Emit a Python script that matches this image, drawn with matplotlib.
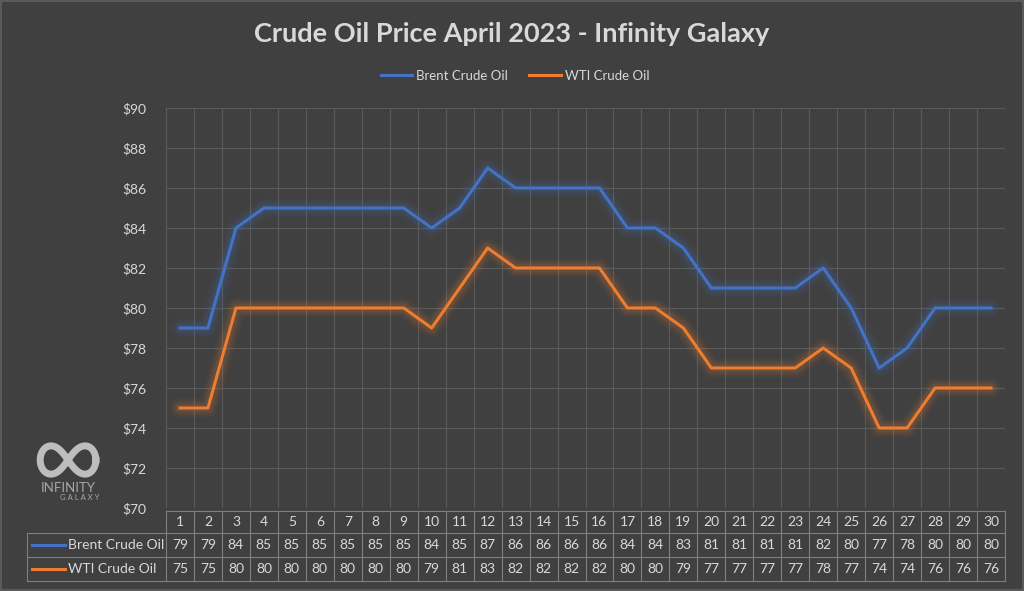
import numpy as np
import matplotlib.pyplot as plt
from matplotlib import transforms

days = list(range(1, 31))
brent = [79, 79, 84, 85, 85, 85, 85, 85, 85, 84, 85, 87, 86, 86, 86, 86,
         84, 84, 83, 81, 81, 81, 81, 82, 80, 77, 78, 80, 80, 80]
wti = [75, 75, 80, 80, 80, 80, 80, 80, 80, 79, 81, 83, 82, 82, 82, 82,
       80, 80, 79, 77, 77, 77, 77, 78, 77, 74, 74, 76, 76, 76]
names = ["Brent Crude Oil", "WTI Crude Oil"]
colors = ["#4472C4", "#ED7D31"]
yticks = [70, 72, 74, 76, 78, 80, 82, 84, 86, 88, 90]

plt.rcParams['font.family'] = ['Lato', 'DejaVu Sans']
bg = '#404040'
txt = '#d9d9d9'
grid = '#5a5a5a'
tline = '#7f7f7f'

fig = plt.figure(figsize=(10.24, 5.91), dpi=100, facecolor=bg,
                 edgecolor='#5a5a5a', linewidth=1.5)
ax = fig.add_axes([166 / 1024, 83 / 591, 839 / 1024, 400 / 591])
ax.set_facecolor(bg)

# linije sa "glow" efektom
for name, vals, col in zip(names, [brent, wti], colors):
    for w, a in [(14, 0.05), (10, 0.08), (6.5, 0.12)]:
        ax.plot(days, vals, color=col, lw=w, alpha=a, solid_joinstyle='round',
                solid_capstyle='round')
    ax.plot(days, vals, color=col, lw=2.2, label=name, solid_joinstyle='round')

ax.set_xlim(0.5, 30.5)
ax.set_ylim(70, 90)
ax.set_yticks(yticks)
ax.set_yticklabels([f"${v}" for v in yticks])
ax.set_xticks(np.arange(0.5, 31, 1))
ax.set_xticklabels([])
ax.tick_params(length=0, labelsize=10, labelcolor=txt, pad=14)
ax.grid(True, color=grid, lw=0.8)
for s in ax.spines.values():
    s.set_visible(False)

# tabela ispod grafika
tr = transforms.blended_transform_factory(ax.transData, ax.transAxes)
rows = [-0.007, -0.0625, -0.1225, -0.1825]
xl = (27 - 166) / 839
kw = dict(color=tline, lw=0.8, clip_on=False)
ax.plot([0, 1], [rows[0]] * 2, transform=ax.transAxes, **kw)
for r in rows[1:]:
    ax.plot([xl, 1], [r] * 2, transform=ax.transAxes, **kw)
for b in np.arange(0.5, 31, 1):
    ax.plot([b, b], [rows[0], rows[-1]], transform=tr, **kw)
ax.plot([xl, xl], [rows[1], rows[-1]], transform=ax.transAxes, **kw)

for i, d in enumerate(days):
    for k, v in enumerate([d, brent[i], wti[i]]):
        ax.text(d, (rows[k] + rows[k + 1]) / 2, str(v), transform=tr,
                ha='center', va='center', fontsize=10, color=txt)

for k, (name, col) in enumerate(zip(names, colors)):
    ym = (rows[k + 1] + rows[k + 2]) / 2
    ax.plot([(32 - 166) / 839, (65 - 166) / 839], [ym, ym], color=col, lw=2.2,
            transform=ax.transAxes, clip_on=False)
    ax.text((68 - 166) / 839, ym, name, transform=ax.transAxes, ha='left',
            va='center', fontsize=10, color=txt)

fig.text(0.5, 1 - 34 / 591, "Crude Oil Price April 2023 - Infinity Galaxy",
         ha='center', va='center', fontsize=19.5, fontweight='bold', color=txt)
fig.legend(loc='center', bbox_to_anchor=(0.503, 1 - 76 / 591), ncol=2,
           frameon=False, fontsize=9.5, labelcolor=txt, handlelength=2.4,
           handletextpad=0.3, columnspacing=1.6)

# logo
lax = fig.add_axes([36 / 1024, 1 - 478 / 591, 64 / 1024, 36 / 591])
lax.set_axis_off()
t = np.linspace(0, 2 * np.pi, 300)
lax.plot(np.cos(t) / (1 + np.sin(t) ** 2), np.sin(t) * np.cos(t) / (1 + np.sin(t) ** 2),
         color='#bdbdbd', lw=5)
lax.set_xlim(-1.15, 1.15)
lax.set_ylim(-0.45, 0.45)
fig.text(68 / 1024, 1 - 488 / 591, "INFINITY", ha='center', va='center',
         fontsize=9.5, color='#a6a6a6')
fig.text(80 / 1024, 1 - 498 / 591, "G A L A X Y", ha='center', va='center',
         fontsize=5.5, color='#a6a6a6')

fig.savefig('out.png', dpi=100, facecolor=bg, edgecolor='#5a5a5a')
